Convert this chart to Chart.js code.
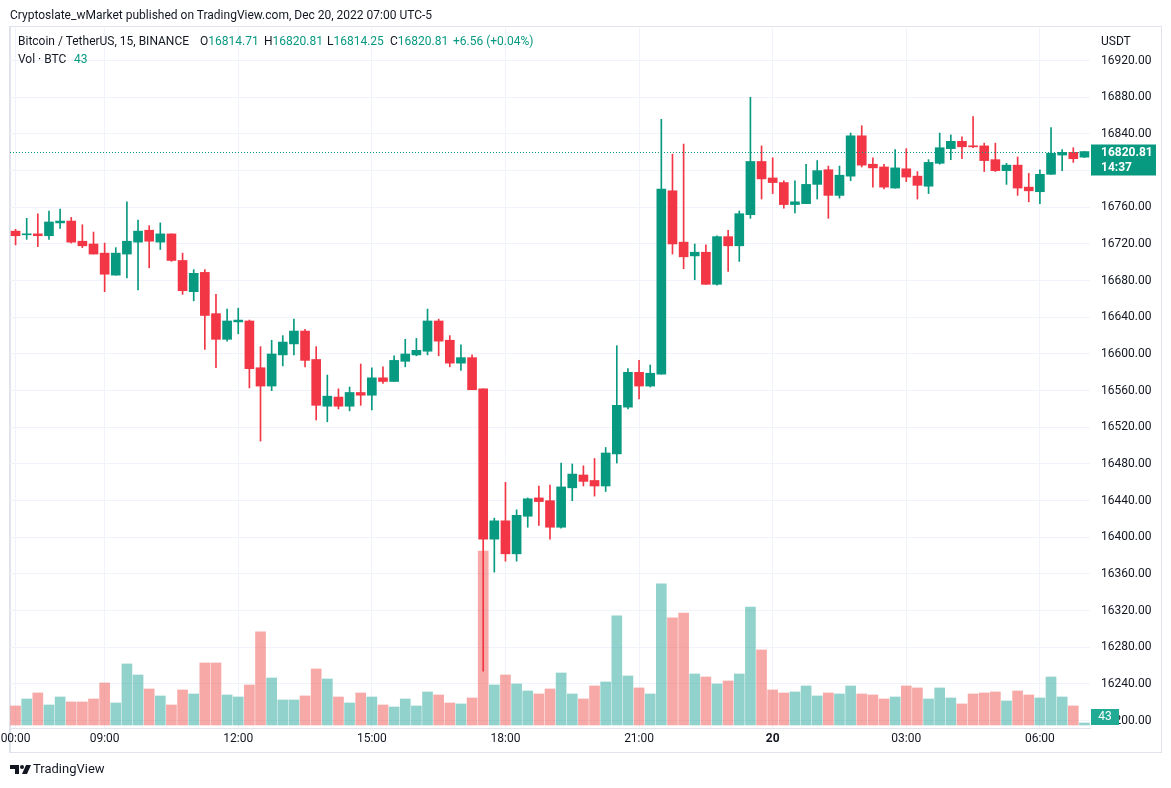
<!DOCTYPE html>
<html>
<head>
<meta charset="utf-8">
<title>Bitcoin / TetherUS, 15, BINANCE</title>
<script src="https://cdn.jsdelivr.net/npm/chart.js@4.4.0/dist/chart.umd.min.js"></script>
<style>
  body { margin: 0; background: #fff; font-family: Roboto, "Open Sans", sans-serif; color: #131722; }
  #wrap { position: relative; width: 1171px; height: 788px; overflow: hidden; }
  #frame { position: absolute; left: 9px; top: 26px; width: 1153px; height: 727px; box-sizing: border-box; border: 1px solid #e0e3eb; border-left-width: 2px; }
  canvas { position: absolute; left: 0; top: 0; }
  .txt { position: absolute; font-size: 12px; line-height: 14px; white-space: pre; }
  .up { color: #089981; }
</style>
</head>
<body>
<div id="wrap">
  <div id="frame"></div>
  <canvas id="btc-chart" width="1171" height="788"></canvas>
  <div class="txt" style="left:10px;top:8px">Cryptoslate_wMarket published on TradingView.com, Dec 20, 2022 07:00 UTC-5</div>
  <div class="txt" style="left:18px;top:34px">Bitcoin / TetherUS, 15, BINANCE</div>
  <div class="txt" style="left:200px;top:34px">O<span class="up">16814.71</span></div>
  <div class="txt" style="left:264px;top:34px">H<span class="up">16820.81</span></div>
  <div class="txt" style="left:327px;top:34px">L<span class="up">16814.25</span></div>
  <div class="txt" style="left:390px;top:34px">C<span class="up">16820.81</span></div>
  <div class="txt up" style="left:453px;top:34px">+6.56 (+0.04%)</div>
  <div class="txt" style="left:18px;top:52px">Vol · BTC</div>
  <div class="txt up" style="left:74px;top:52px">43</div>
  <div class="txt" style="left:1101px;top:34px">USDT</div>
  <svg width="22" height="10" style="position:absolute;left:10px;top:765px">
    <path d="M0 0h9v9h-4v-5h-5z" fill="#131722"/>
    <circle cx="12" cy="2" r="2" fill="#131722"/>
    <path d="M16 0h5l-4 9h-5z" fill="#131722"/>
  </svg>
  <div class="txt" style="left:33px;top:762px;font-size:13px">TradingView</div>
</div>
<script>
// 15-minute candles, Dec 19 07:00 -> Dec 20 07:00 (UTC-5)
const OPEN = [
  16734, 16730, 16731, 16729, 16743, 16745, 16723, 16720, 16710, 16686,
  16709, 16722, 16735, 16722, 16731, 16702, 16668, 16689, 16644, 16616,
  16635, 16636, 16585, 16565, 16599, 16611, 16625, 16594, 16543, 16553,
  16543, 16558, 16555, 16574, 16570, 16592, 16599, 16603, 16636, 16615,
  16590, 16596, 16562, 16398, 16418, 16382, 16423, 16443, 16440, 16411,
  16454, 16468, 16462, 16456, 16491, 16542, 16580, 16565, 16578, 16778,
  16722, 16707, 16711, 16676, 16728, 16718, 16752, 16810, 16792, 16787,
  16763, 16764, 16785, 16801, 16773, 16794, 16838, 16807, 16804, 16781,
  16802, 16794, 16783, 16808, 16824, 16832, 16827, 16827, 16812, 16800,
  16806, 16782, 16777, 16796, 16817, 16820, 16814.71
];
const HIGH = [
  16736, 16748, 16753, 16756, 16758, 16749, 16741, 16733, 16721, 16716,
  16766, 16746, 16740, 16743, 16731, 16710, 16692, 16692, 16665, 16649,
  16650, 16637, 16608, 16615, 16620, 16638, 16627, 16608, 16577, 16562,
  16564, 16589, 16585, 16586, 16598, 16616, 16617, 16649, 16638, 16620,
  16610, 16599, 16562, 16421, 16460, 16430, 16443, 16456, 16457, 16481,
  16480, 16478, 16486, 16498, 16609, 16584, 16593, 16588, 16856, 16818,
  16829, 16720, 16719, 16729, 16735, 16756, 16880, 16827, 16814, 16789,
  16789, 16807, 16811, 16805, 16805, 16841, 16849, 16814, 16807, 16823,
  16824, 16799, 16812, 16841, 16839, 16837, 16859, 16830, 16830, 16808,
  16815, 16797, 16801, 16847, 16823, 16825, 16820.81
];
const LOW = [
  16719, 16725, 16717, 16725, 16737, 16721, 16716, 16709, 16668, 16686,
  16683, 16670, 16694, 16714, 16701, 16665, 16658, 16605, 16585, 16614,
  16622, 16563, 16505, 16560, 16587, 16599, 16586, 16528, 16526, 16540,
  16538, 16544, 16539, 16568, 16570, 16586, 16598, 16599, 16598, 16586,
  16582, 16561, 16254, 16362, 16374, 16374, 16411, 16413, 16398, 16410,
  16440, 16456, 16445, 16450, 16481, 16540, 16551, 16564, 16578, 16709,
  16693, 16681, 16676, 16675, 16690, 16701, 16748, 16769, 16775, 16759,
  16754, 16764, 16769, 16748, 16770, 16789, 16804, 16782, 16780, 16781,
  16788, 16769, 16775, 16807, 16812, 16813, 16825, 16799, 16799, 16785,
  16773, 16766, 16764, 16796, 16800, 16809, 16814.25
];
const CLOSE = [
  16729, 16731, 16729, 16744, 16745, 16722, 16718, 16709, 16687, 16710,
  16723, 16734, 16723, 16731, 16702, 16669, 16688, 16642, 16616, 16636,
  16637, 16584, 16565, 16600, 16613, 16625, 16593, 16544, 16554, 16543,
  16558, 16555, 16574, 16570, 16593, 16600, 16604, 16636, 16614, 16590,
  16596, 16561, 16398, 16418, 16382, 16424, 16442, 16439, 16411, 16455,
  16469, 16461, 16456, 16492, 16544, 16580, 16565, 16579, 16780, 16720,
  16706, 16711, 16676, 16728, 16718, 16753, 16810, 16791, 16787, 16763,
  16766, 16785, 16800, 16773, 16795, 16838, 16806, 16803, 16782, 16803,
  16793, 16784, 16809, 16825, 16832, 16826, 16826, 16811, 16800, 16806,
  16781, 16778, 16796, 16819, 16820, 16813, 16820.81
];
// volume in BTC
const VOLUME = [
  409, 559, 688, 430, 602, 495, 495, 559, 903, 473,
  1312, 1075, 774, 624, 430, 753, 667, 1333, 1333, 645,
  602, 860, 2000, 1011, 538, 538, 624, 1204, 989, 602,
  473, 688, 602, 430, 387, 559, 409, 710, 645, 473,
  452, 581, 3741, 860, 1075, 882, 731, 667, 774, 1118,
  667, 559, 839, 925, 2344, 1054, 796, 667, 3032, 2301,
  2408, 1097, 1032, 882, 946, 1097, 2537, 1613, 753, 688,
  710, 839, 624, 688, 667, 839, 667, 645, 559, 602,
  839, 796, 559, 796, 581, 452, 667, 688, 710, 516,
  731, 645, 581, 1032, 602, 409, 43
];

const PRICE_TICKS = [
  16200, 16240, 16280, 16320, 16360, 16400, 16440, 16480, 16520, 16560,
  16600, 16640, 16680, 16720, 16760, 16800, 16840, 16880, 16920
];
const TICK_INDEX = [0, 8, 20, 32, 44, 56, 68, 80, 92];
const TICK_TEXT = ["00:00", "09:00", "12:00", "15:00", "18:00", "21:00", "20", "03:00", "06:00"];
const COUNTDOWN = "14:37";

const UP = "#089981";
const DOWN = "#f23645";
const UP_VOL = "rgba(38,166,154,0.5)";
const DOWN_VOL = "rgba(239,83,80,0.5)";
const GRID = "#f0f3fa";
const FONT = "Roboto, 'Open Sans', sans-serif";

// bar start times
const TIMES = OPEN.map((_, i) => {
  const m = 7 * 60 + 15 * i;
  const hh = String(Math.floor(m / 60) % 24).padStart(2, "0");
  const mm = String(m % 60).padStart(2, "0");
  return `${hh}:${mm}`;
});

const isUp = (i) => CLOSE[i] >= OPEN[i];
const candleColors = OPEN.map((_, i) => (isUp(i) ? UP : DOWN));
const volumeColors = OPEN.map((_, i) => (isUp(i) ? UP_VOL : DOWN_VOL));

//last price line + axis badges
const lastPricePlugin = {
  id: "lastPrice",
  afterDraw(chart) {
    const { ctx, chartArea, scales } = chart;
    const last = CLOSE.length - 1;
    const py = Math.round(scales.y.getPixelForValue(CLOSE[last])) + 0.5;
    ctx.save();
    ctx.strokeStyle = UP;
    ctx.lineWidth = 1;
    ctx.setLineDash([1, 2]);
    ctx.beginPath();
    ctx.moveTo(chartArea.left, py);
    ctx.lineTo(chartArea.right, py);
    ctx.stroke();
    ctx.setLineDash([]);

    ctx.fillStyle = UP;
    ctx.fillRect(chartArea.right + 1, py - 8, 65, 31);
    ctx.fillStyle = "#ffffff";
    ctx.textBaseline = "middle";
    ctx.textAlign = "left";
    ctx.font = `bold 12px ${FONT}`;
    ctx.fillText(CLOSE[last].toFixed(2), chartArea.right + 11, py);
    ctx.fillText(COUNTDOWN, chartArea.right + 11, py + 15);

    const vy = Math.min(scales.vol.getPixelForValue(VOLUME[last]), chartArea.bottom - 11);
    ctx.fillStyle = "#22ab94";
    ctx.fillRect(chartArea.right + 1, vy - 8, 28, 16);
    ctx.fillStyle = "#ffffff";
    ctx.textAlign = "center";
    ctx.font = `12px ${FONT}`;
    ctx.fillText(String(VOLUME[last]), chartArea.right + 15, vy);
    ctx.restore();
  },
};

new Chart(document.getElementById("btc-chart"), {
  type: "bar",
  data: {
    labels: TIMES,
    datasets: [
      {
        label: "Volume",
        data: VOLUME,
        yAxisID: "vol",
        backgroundColor: volumeColors,
        barThickness: 10,
        grouped: false,
        order: 3,
      },
      {
        label: "Wick",
        data: LOW.map((l, i) => [l, HIGH[i]]),
        yAxisID: "y",
        backgroundColor: candleColors,
        barThickness: 1,
        grouped: false,
        order: 2,
      },
      {
        label: "Body",
        data: OPEN.map((o, i) => [o, CLOSE[i]]),
        yAxisID: "y",
        backgroundColor: candleColors,
        barThickness: 9,
        minBarLength: 1,
        grouped: false,
        order: 1,
      },
    ],
  },
  options: {
    responsive: false,
    animation: false,
    devicePixelRatio: 1,
    layout: { padding: { left: 10, top: 28, right: 10, bottom: 36 } },
    plugins: { legend: { display: false }, tooltip: { enabled: false } },
    scales: {
      x: {
        type: "category",
        offset: true,
        border: { display: true, color: "#e0e3eb" },
        grid: {
          offset: false,
          drawTicks: false,
          color: (c) => (TICK_INDEX.includes(c.index) ? GRID : "rgba(0,0,0,0)"),
        },
        ticks: {
          autoSkip: false,
          maxRotation: 0,
          padding: 4,
          color: "#131722",
          font: (c) => ({
            family: FONT,
            size: 12,
            weight: c.tick && c.tick.label === "20" ? "bold" : "normal",
          }),
          callback(value, index) {
            const k = TICK_INDEX.indexOf(index);
            return k >= 0 ? TICK_TEXT[k] : "";
          },
        },
        afterFit(scale) {
          scale.height = 24;
          scale.paddingLeft = 0;
          scale.paddingRight = 0;
        },
      },
      y: {
        position: "right",
        min: 16192,
        max: 16955.6,
        border: { display: false },
        grid: { color: GRID, drawTicks: false },
        ticks: {
          padding: 11,
          color: "#131722",
          font: { family: FONT, size: 12 },
          callback: (v) => Number(v).toFixed(2),
        },
        afterBuildTicks(scale) {
          scale.ticks = PRICE_TICKS.map((v) => ({ value: v }));
        },
        afterFit(scale) {
          scale.width = 71;
          scale.paddingTop = 0;
          scale.paddingBottom = 0;
        },
      },
      vol: {
        display: false,
        min: -65,
        max: 14985,
      },
    },
  },
  plugins: [lastPricePlugin],
});
</script>
</body>
</html>
